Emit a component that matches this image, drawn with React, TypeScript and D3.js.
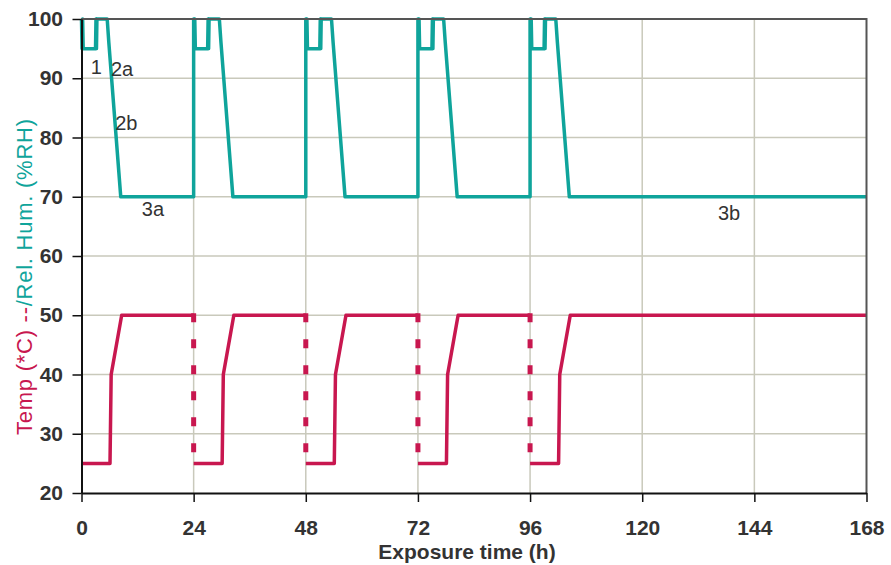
import React, { useEffect, useRef } from "react";
import * as d3 from "d3";

// cycle start times (h)
const cycleStarts = [0, 24, 48, 72, 96];
const endTime = 168;

// humidity profile inside one cycle: hour offset / %RH
const rhOffsets = [0, 0.12, 0.24, 0.36, 0.48, 3.0, 3.1, 3.2, 3.3, 3.4, 5.5, 5.85, 8.4];
const rhValues = [100, 95, 100, 95, 95, 95, 100, 95, 100, 100, 100, 96, 70];
const rhBase = 70;

// temperature profile inside one cycle: hour offset / deg C
const tempOffsets = [0, 6.1, 6.35, 8.6];
const tempValues = [25, 25, 40, 50];
const tempHigh = 50;
const tempLow = 25;

const xTicks = [0, 24, 48, 72, 96, 120, 144, 168];
const yTicks = [20, 30, 40, 50, 60, 70, 80, 90, 100];

// stage labels: text, hour, value
const stageLabels = ["1", "2a", "2b", "3a", "3b"];
const stageHours = [2.0, 6.3, 7.2, 12.9, 136.2];
const stageValues = [90.7, 90.4, 81.2, 66.7, 66.0];

const TEAL = "#0fa49b";
const CRIMSON = "#c8174f";
const FONT = "'Liberation Sans', Arial, sans-serif";

export default function App() {
  const ref = useRef<SVGSVGElement>(null);

  useEffect(() => {
    const svg = d3.select(ref.current);
    svg.selectAll("*").remove();

    const width = 891;
    const height = 565;
    svg.attr("width", width).attr("height", height);

    const x = d3.scaleLinear().domain([0, endTime]).range([81.5, 866.5]);
    const y = d3.scaleLinear().domain([20, 100]).range([493, 19]);

    svg.append("rect").attr("width", width).attr("height", height).attr("fill", "#fff");

    // grid
    const grid = svg.append("g").attr("stroke", "#c9c9bb").attr("stroke-width", 1.5);
    grid.selectAll("line.h")
      .data(yTicks.filter(d => d > 20 && d < 100))
      .enter().append("line")
      .attr("x1", x(0)).attr("x2", x(endTime))
      .attr("y1", d => y(d)).attr("y2", d => y(d));
    grid.selectAll("line.v")
      .data(xTicks.filter(d => d > 0 && d < endTime))
      .enter().append("line")
      .attr("y1", y(20)).attr("y2", y(100))
      .attr("x1", d => x(d)).attr("x2", d => x(d));

    const line = d3.line<[number, number]>()
      .x(d => x(d[0]))
      .y(d => y(d[1]));

    // temperature
    cycleStarts.forEach((c, i) => {
      const pts: [number, number][] = tempOffsets.map((o, j) => [c + o, tempValues[j]]);
      const next = i < cycleStarts.length - 1 ? cycleStarts[i + 1] : endTime;
      pts.push([next, tempHigh]);
      svg.append("path")
        .attr("d", line(pts))
        .attr("fill", "none")
        .attr("stroke", CRIMSON)
        .attr("stroke-width", 3.5)
        .attr("stroke-linejoin", "round");
      if (i < cycleStarts.length - 1) {
        svg.append("line")
          .attr("x1", x(next)).attr("x2", x(next))
          .attr("y1", y(tempHigh) - 2).attr("y2", y(tempLow))
          .attr("stroke", CRIMSON)
          .attr("stroke-width", 5)
          .attr("stroke-dasharray", "9,17");
      }
    });

    // humidity
    const rh: [number, number][] = [];
    cycleStarts.forEach(c => {
      if (c > 0) rh.push([c, rhBase]);
      rhOffsets.forEach((o, j) => rh.push([c + o, rhValues[j]]));
    });
    rh.push([endTime, rhBase]);
    svg.append("path")
      .attr("d", line(rh))
      .attr("fill", "none")
      .attr("stroke", TEAL)
      .attr("stroke-width", 3.5)
      .attr("stroke-linejoin", "round");

    // top + right frame
    svg.append("path")
      .attr("d", `M${x(0)},${y(100)}H${x(endTime)}V${y(20)}`)
      .attr("fill", "none")
      .attr("stroke", "#555")
      .attr("stroke-width", 2);

    // axes
    const yAxis = svg.append("g")
      .attr("transform", `translate(${x(0)},0)`)
      .call(d3.axisLeft(y).tickValues(yTicks).tickSize(9).tickSizeOuter(0).tickPadding(9.5));
    const xAxis = svg.append("g")
      .attr("transform", `translate(0,${y(20)})`)
      .call(d3.axisBottom(x).tickValues(xTicks).tickSize(9).tickSizeOuter(0).tickPadding(18));

    [yAxis, xAxis].forEach(g => {
      g.select(".domain").attr("stroke", "#111").attr("stroke-width", 2);
      g.selectAll(".tick line").attr("stroke", "#111").attr("stroke-width", 1.5);
      g.selectAll(".tick text")
        .attr("fill", "#333")
        .style("font-family", FONT)
        .style("font-weight", "bold")
        .style("font-size", "21px");
    });

    // stage labels
    svg.append("g")
      .selectAll("text")
      .data(stageLabels)
      .enter().append("text")
      .attr("x", (d, i) => x(stageHours[i]))
      .attr("y", (d, i) => y(stageValues[i]))
      .attr("fill", "#333")
      .style("font-family", FONT)
      .style("font-size", "20px")
      .text(d => d);

    // axis titles
    svg.append("text")
      .attr("x", 467)
      .attr("y", 559)
      .attr("text-anchor", "middle")
      .attr("fill", "#333")
      .style("font-family", FONT)
      .style("font-weight", "bold")
      .style("font-size", "21px")
      .text("Exposure time (h)");

    const yt = svg.append("text")
      .attr("transform", "translate(32,277) rotate(-90)")
      .attr("text-anchor", "middle")
      .attr("textLength", 316)
      .attr("lengthAdjust", "spacing")
      .style("font-family", FONT)
      .style("font-size", "22px");
    yt.append("tspan").attr("fill", CRIMSON).text("Temp (*C) --");
    yt.append("tspan").attr("fill", TEAL).text("/Rel. Hum. (%RH)");
  }, []);

  return (
    <svg ref={ref} style={{ position: "absolute", left: 0, top: 0 }}></svg>
  );
}
